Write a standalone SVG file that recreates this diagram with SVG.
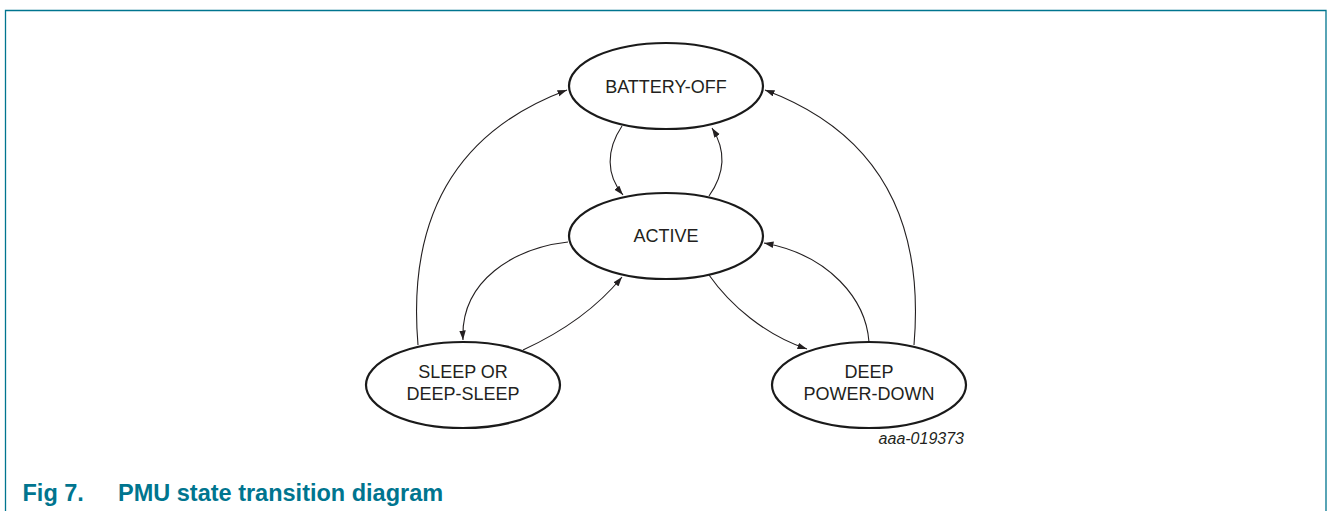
<svg xmlns="http://www.w3.org/2000/svg" width="1328" height="511" viewBox="0 0 1328 511">
<defs>
<style>
.frame{fill:none;stroke:#00758f;stroke-width:1.3}
.node ellipse{fill:#ffffff;stroke:#1a1a1a;stroke-width:2.2}
.node text{font-family:"Liberation Sans",Arial,sans-serif;font-size:18px;fill:#231f20;text-anchor:middle}
.conn path{fill:none;stroke:#231f20;stroke-width:1.1;marker-end:url(#arr)}
.code{font-family:"Liberation Sans",Arial,sans-serif;font-size:16px;font-style:italic;fill:#231f20;text-anchor:end}
.cap{font-family:"Liberation Sans",Arial,sans-serif;font-size:23.5px;font-weight:bold;fill:#00758f}
</style>
<marker id="arr" markerUnits="userSpaceOnUse" markerWidth="10" markerHeight="7" refX="9.5" refY="3.25" orient="auto">
<path d="M0,0 L9.5,3.25 L0,6.5 z" fill="#231f20"/>
</marker>
</defs>
<rect width="1328" height="511" fill="#ffffff"/>
<path class="frame" d="M5.5,511 V10.5 H1326 V511"/>
<g class="conn" id="connectors">
<path d="M622,126 C606,150 606,175 623,195"/>
<path d="M709,196 C726,172 726,150 712,128"/>
<path d="M418,345 C407,215 457,131 567,90"/>
<path d="M914,345 C925,215 875,131 765,90"/>
<path d="M568,242 C515,248 460,280 463,340"/>
<path d="M523,350 C560,333 595,310 622,277"/>
<path d="M709,275 C730,305 765,335 807,349"/>
<path d="M869,342 C866,300 830,255 764,243"/>
</g>
<g class="node" id="battery-off">
<ellipse cx="666" cy="86" rx="97" ry="43"/>
<text x="666" y="93">BATTERY-OFF</text>
</g>
<g class="node" id="active">
<ellipse cx="666" cy="236" rx="97" ry="43"/>
<text x="666" y="242">ACTIVE</text>
</g>
<g class="node" id="sleep">
<ellipse cx="463" cy="385" rx="97" ry="43"/>
<text x="463" y="378">SLEEP OR</text>
<text x="463" y="400">DEEP-SLEEP</text>
</g>
<g class="node" id="deep-power-down">
<ellipse cx="869" cy="385" rx="97" ry="43"/>
<text x="869" y="378">DEEP</text>
<text x="869" y="400">POWER-DOWN</text>
</g>
<text class="code" x="964" y="444">aaa-019373</text>
<text class="cap" x="22.5" y="500.5">Fig 7.</text>
<text class="cap" x="118" y="500.5">PMU state transition diagram</text>
</svg>
